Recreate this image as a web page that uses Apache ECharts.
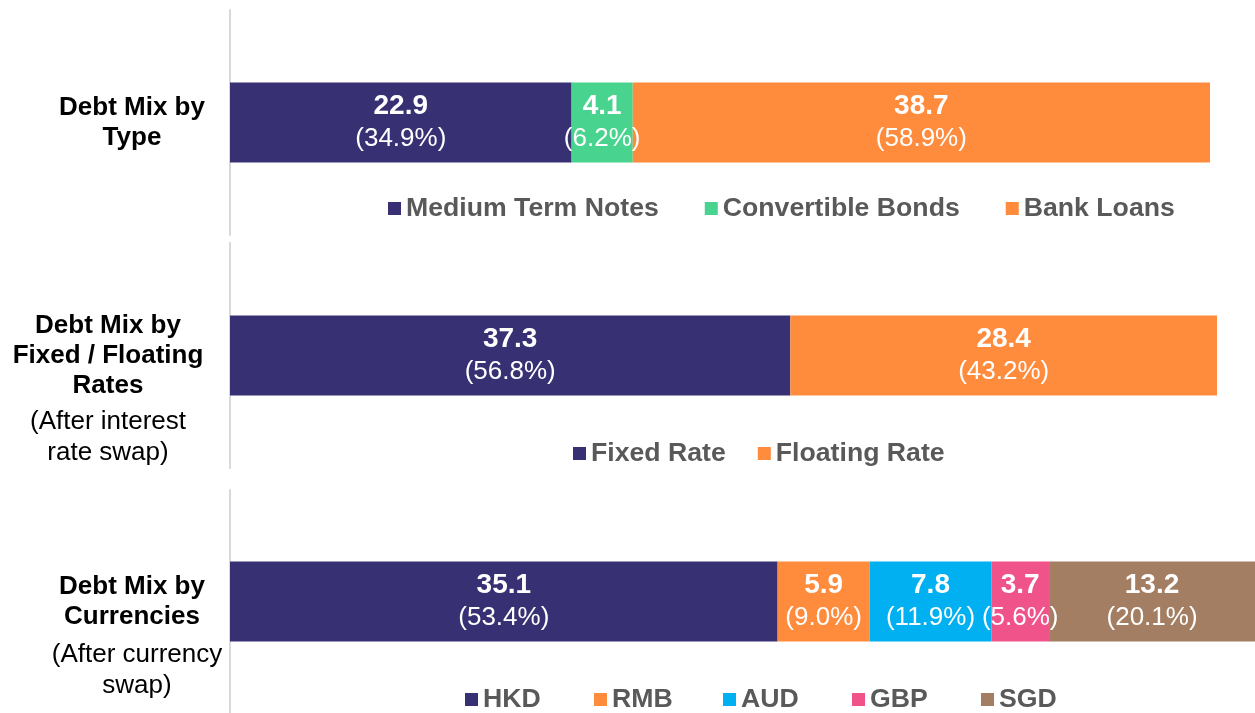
<!DOCTYPE html>
<html>
<head>
<meta charset="utf-8">
<title>Debt Mix</title>
<script src="https://cdn.jsdelivr.net/npm/echarts@6/dist/echarts.min.js"></script>
<style>
  html, body { margin: 0; padding: 0; background: #fff; }
  #chart { width: 1255px; height: 713px; }
</style>
</head>
<body>
<div id="chart"></div>
<script>
// panel 1: by type
const typeNames = ['Medium Term Notes', 'Convertible Bonds', 'Bank Loans']
const typeValues = [22.9, 4.1, 38.7]
const typePcts = ['34.9%', '6.2%', '58.9%']
// panel 2: fixed / floating
const rateNames = ['Fixed Rate', 'Floating Rate']
const rateValues = [37.3, 28.4]
const ratePcts = ['56.8%', '43.2%']
// panel 3: currencies
const ccyNames = ['HKD', 'RMB', 'AUD', 'GBP', 'SGD']
const ccyValues = [35.1, 5.9, 7.8, 3.7, 13.2]
const ccyPcts = ['53.4%', '9.0%', '11.9%', '5.6%', '20.1%']

// category labels (bold) and the notes under them
const panelTitles = ['Debt Mix by\nType', 'Debt Mix by\nFixed / Floating\nRates', 'Debt Mix by\nCurrencies']
const panelNotes = ['', '(After interest\nrate swap)', '(After currency\nswap)']

const PURPLE = '#373174'
const GREEN = '#48d38e'
const ORANGE = '#ff8b3d'
const CYAN = '#00b0f0'
const PINK = '#f0528a'
const BROWN = '#a47e62'
const FONT = '"Liberation Sans", Arial, sans-serif'

const sum = arr => arr.reduce((a, b) => a + b, 0)

// geometry of the three panels
const grids = [
  { left: 230, right: 45, top: 10, height: 225 },
  { left: 230, right: 38, top: 243, height: 225 },
  { left: 230, right: 0, top: 490, height: 223 }
]
// where the category label is centred, measured left from the axis
const labelMargins = [98, 122, 98]
// currency legend is spread evenly, one slot per item
const ccyLegendLeft = 465
const ccyLegendStep = 129

const makeSeries = (names, values, pcts, colors, idx) => names.map((name, i) => ({
  name: name,
  type: 'bar',
  stack: 'p' + idx,
  xAxisIndex: idx,
  yAxisIndex: idx,
  barWidth: 80,
  itemStyle: { color: colors[i] },
  emphasis: { disabled: true },
  label: {
    show: true,
    position: 'inside',
    formatter: () => '{v|' + values[i].toFixed(1) + '}\n{p|(' + pcts[i] + ')}',
    rich: {
      v: { color: '#fff', fontFamily: FONT, fontSize: 28, fontWeight: 'bold', lineHeight: 32 },
      p: { color: '#fff', fontFamily: FONT, fontSize: 26, lineHeight: 32 }
    }
  },
  data: [values[i]]
}))

const legendBase = {
  icon: 'rect',
  itemWidth: 13,
  itemHeight: 13,
  padding: 0,
  selectedMode: false,
  textStyle: { fontFamily: FONT, fontSize: 26.67, fontWeight: 'bold', color: '#595959' }
}

const chart = echarts.init(document.getElementById('chart'))
const option = {
  animation: false,
  grid: grids,
  xAxis: [
    { gridIndex: 0, type: 'value', min: 0, max: sum(typeValues), show: false },
    { gridIndex: 1, type: 'value', min: 0, max: sum(rateValues), show: false },
    { gridIndex: 2, type: 'value', min: 0, max: sum(ccyValues), show: false }
  ],
  yAxis: panelTitles.map((t, i) => ({
    gridIndex: i,
    type: 'category',
    data: [t],
    axisLine: { show: true, lineStyle: { color: '#d9d9d9', width: 2 } },
    axisTick: { show: false },
    axisLabel: {
      margin: labelMargins[i],
      align: 'center',
      color: '#000',
      fontFamily: FONT,
      fontSize: 26,
      fontWeight: 'bold',
      lineHeight: 30
    }
  })),
  legend: [
    Object.assign({}, legendBase, { data: typeNames, left: 388, top: 195, itemGap: 46 }),
    Object.assign({}, legendBase, { data: rateNames, left: 573, top: 440, itemGap: 32 }),
    ...ccyNames.map((name, i) => Object.assign({}, legendBase, {
      data: [name], left: ccyLegendLeft + i * ccyLegendStep, top: 686
    }))
  ],
  graphic: [
    { type: 'text', x: 108, y: 437, style: { text: panelNotes[1], fill: '#000', font: '26px ' + FONT, align: 'center', verticalAlign: 'middle', lineHeight: 31 } },
    { type: 'text', x: 137, y: 670, style: { text: panelNotes[2], fill: '#000', font: '26px ' + FONT, align: 'center', verticalAlign: 'middle', lineHeight: 31 } }
  ],
  series: [
    ...makeSeries(typeNames, typeValues, typePcts, [PURPLE, GREEN, ORANGE], 0),
    ...makeSeries(rateNames, rateValues, ratePcts, [PURPLE, ORANGE], 1),
    ...makeSeries(ccyNames, ccyValues, ccyPcts, [PURPLE, ORANGE, CYAN, PINK, BROWN], 2)
  ]
}
chart.setOption(option)
</script>
</body>
</html>
